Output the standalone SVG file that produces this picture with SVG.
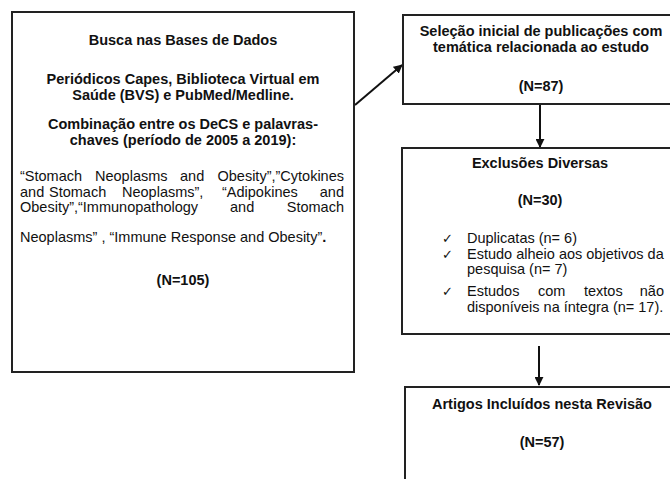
<svg xmlns="http://www.w3.org/2000/svg" width="670" height="479" viewBox="0 0 670 479">
<style>
text{font-family:"Liberation Sans",Arial,sans-serif;font-size:14.5px;fill:#111}
.b{font-weight:bold}
.c{text-anchor:middle}
.e{text-anchor:end}
.box{fill:#fff;stroke:#222;stroke-width:2}
.ln{stroke:#111;stroke-width:2;fill:none}
.ck{font-family:"DejaVu Sans",sans-serif;font-size:13px}
</style>
<defs>
<marker id="ah" viewBox="0 0 10 10" refX="9" refY="5" markerWidth="4.5" markerHeight="4.5" orient="auto" markerUnits="strokeWidth">
<path d="M0,0 L10,5 L0,10 z" fill="#111"/>
</marker>
</defs>
<rect width="670" height="479" fill="#fff"/>
<g id="connectors">
<line class="ln" x1="355" y1="105" x2="402" y2="65" marker-end="url(#ah)"/>
<line class="ln" x1="540" y1="104" x2="540" y2="147" marker-end="url(#ah)"/>
<line class="ln" x1="539" y1="346" x2="539" y2="385" marker-end="url(#ah)"/>
</g>
<g id="busca">
<rect class="box" x="12" y="12" width="342" height="360"/>
<text class="b c" x="183" y="45">Busca nas Bases de Dados</text>
<text class="b c" x="183" y="84">Periódicos Capes, Biblioteca Virtual em</text>
<text class="b c" x="183" y="100">Saúde (BVS) e PubMed/Medline.</text>
<text class="b c" x="183" y="129">Combinação entre os DeCS e palavras-</text>
<text class="b c" x="183" y="145">chaves (período de 2005 a 2019):</text>
<text x="20" y="181">“Stomach</text>
<text x="95" y="181">Neoplasms</text>
<text x="180" y="181">and</text>
<text class="e" x="344" y="181">Obesity”,”Cytokines</text>
<text x="20" y="197">and</text>
<text x="49" y="197">Stomach</text>
<text x="122" y="197">Neoplasms”,</text>
<text x="222" y="197">“Adipokines</text>
<text class="e" x="344" y="197">and</text>
<text x="20" y="212">Obesity”,“Immunopathology</text>
<text x="230" y="212">and</text>
<text class="e" x="344" y="212">Stomach</text>
<text x="20" y="242">Neoplasms” , “Immune Response and Obesity”<tspan class="b">.</tspan></text>
<text class="b c" x="183" y="285">(N=105)</text>
</g>
<g id="selecao">
<rect class="box" x="403" y="15" width="300" height="89"/>
<text class="b c" x="541" y="36">Seleção inicial de publicações com</text>
<text class="b c" x="541" y="52">temática relacionada ao estudo</text>
<text class="b c" x="541" y="91">(N=87)</text>
</g>
<g id="exclusoes">
<rect class="box" x="402" y="148" width="300" height="186"/>
<text class="b c" x="540" y="168">Exclusões Diversas</text>
<text class="b c" x="540" y="205">(N=30)</text>
<text class="ck" x="442" y="243">✓</text>
<text x="467" y="243">Duplicatas (n= 6)</text>
<text class="ck" x="442" y="259">✓</text>
<text x="467" y="259">Estudo alheio aos objetivos da</text>
<text x="467" y="274">pesquisa (n= 7)</text>
<text class="ck" x="442" y="296">✓</text>
<text x="467" y="296">Estudos</text>
<text x="538" y="296">com</text>
<text x="584" y="296">textos</text>
<text class="e" x="664" y="296">não</text>
<text x="467" y="312">disponíveis na íntegra (n= 17).</text>
</g>
<g id="artigos">
<rect class="box" x="405" y="387" width="300" height="200"/>
<text class="b c" x="542" y="409">Artigos Incluídos nesta Revisão</text>
<text class="b c" x="542" y="447">(N=57)</text>
</g>
</svg>
